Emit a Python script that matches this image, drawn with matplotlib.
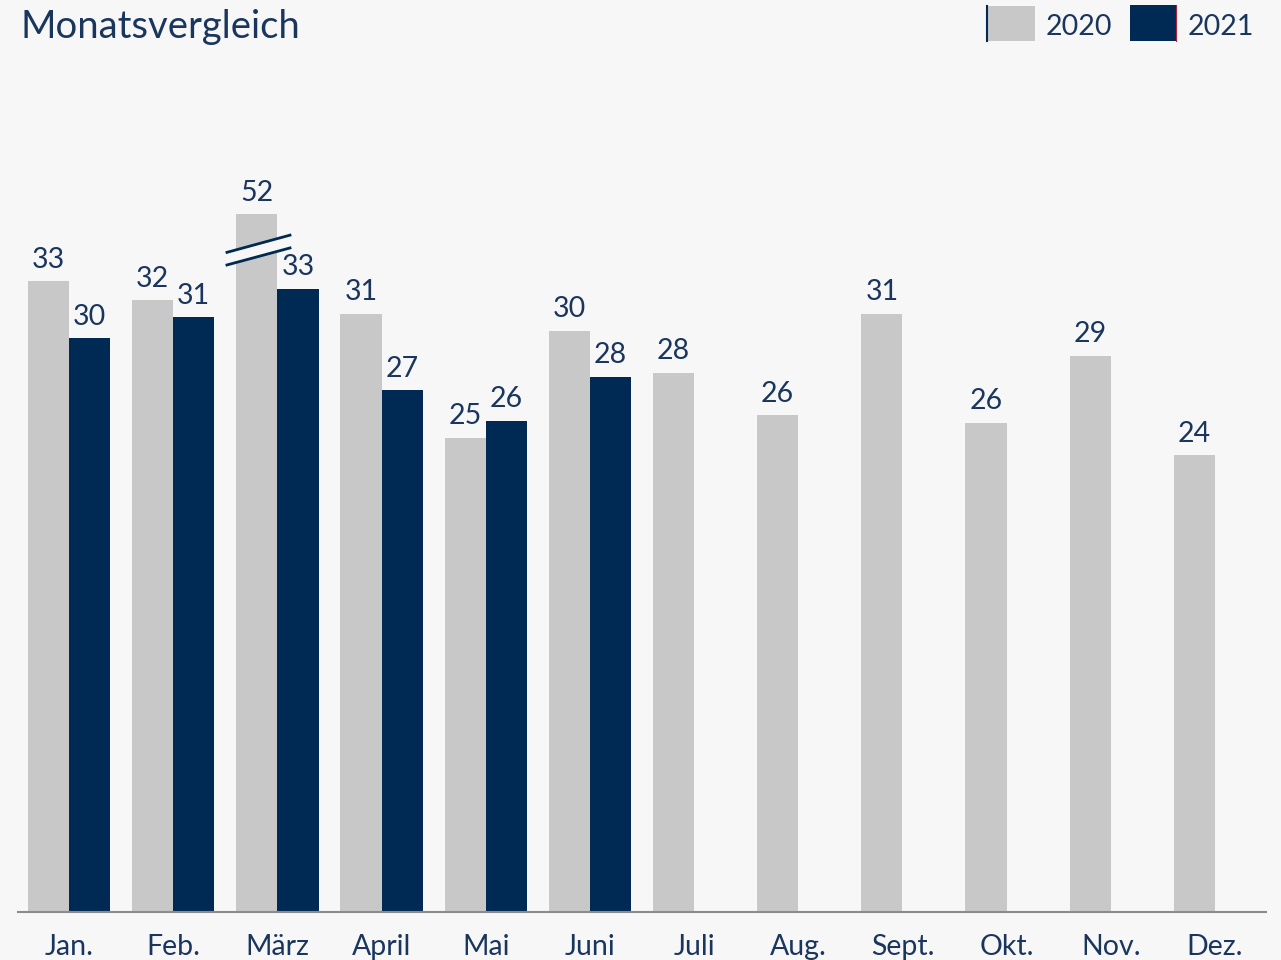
import matplotlib.pyplot as plt
from matplotlib.patches import Rectangle, Polygon
from matplotlib.lines import Line2D
import numpy as np

months = ["Jan.", "Feb.", "März", "April", "Mai", "Juni", "Juli", "Aug.", "Sept.", "Okt.", "Nov.", "Dez."]
v2020 = [33.0, 32.0, 52.0, 31.3, 24.8, 30.4, 28.2, 26.0, 31.3, 25.6, 29.1, 23.9]
v2021 = [30.0, 31.1, 32.6, 27.3, 25.7, 28.0]
cap = 36.5  # Maerz 2020 drawn shortened (axis break)

bg = "#f7f7f7"
grey = "#c8c8c8"
navy = "#002a54"
txt = "#1b365d"

plt.rcParams['font.family'] = ['Lato', 'DejaVu Sans']

fig = plt.figure(figsize=(12.81, 9.6), dpi=100, facecolor=bg)
ax = fig.add_axes([18/1281, 48/960, 1248/1281, 852/960])
ax.set_facecolor(bg)

x = np.arange(len(months))
w = 0.395
h2020 = [min(v, cap) for v in v2020]
ax.bar(x - w/2, h2020, width=w, color=grey)
ax.bar(x[:len(v2021)] + w/2, v2021, width=w, color=navy)

for i, v in enumerate(v2020):
    ax.annotate(f"{v:.0f}", (x[i] - w/2, h2020[i]), xytext=(0, 6), textcoords="offset points",
                ha="center", va="bottom", fontsize=20.5, color=txt)
for i, v in enumerate(v2021):
    ax.annotate(f"{v:.0f}", (x[i] + w/2, v), xytext=(0, 6), textcoords="offset points",
                ha="center", va="bottom", fontsize=20.5, color=txt)

# break marks on Maerz 2020
bx0, bx1 = 1.516, 2.121
ax.add_patch(Polygon([(bx0, 34.5), (bx1, 35.4), (bx1, 34.73), (bx0, 33.84)],
                     closed=True, facecolor=bg, edgecolor="none", zorder=3))
ax.plot([bx0, bx1], [34.5, 35.4], color=navy, lw=2, zorder=4)
ax.plot([bx0, bx1], [33.84, 34.73], color=navy, lw=2, zorder=4)

ax.set_xlim(-0.49, 11.49)
ax.set_ylim(0, 44.56)
ax.set_xticks(x)
ax.set_xticklabels(months, fontsize=20.5, color=txt)
ax.tick_params(axis="x", length=0, pad=16)
ax.set_yticks([])
for s in ["top", "right", "left"]:
    ax.spines[s].set_visible(False)
ax.spines["bottom"].set_color("#8c8c8c")
ax.spines["bottom"].set_linewidth(1.5)

fig.text(20/1281, 1 - 27/960, "Monatsvergleich", fontsize=27.5, color=txt, va="center", ha="left")

# legend
fig.add_artist(Rectangle((987/1281, 1 - 41/960), 48/1281, 35/960, transform=fig.transFigure,
                         facecolor=grey, edgecolor="none"))
fig.add_artist(Line2D([987/1281, 987/1281], [1 - 41/960, 1 - 6/960], transform=fig.transFigure,
                      color=navy, lw=1.5))
fig.text(1046/1281, 1 - 27/960, "2020", fontsize=20.5, color=txt, va="center", ha="left")
fig.add_artist(Rectangle((1130/1281, 1 - 41/960), 46/1281, 36/960, transform=fig.transFigure,
                         facecolor=navy, edgecolor="none"))
fig.add_artist(Line2D([1176/1281, 1176/1281], [1 - 41/960, 1 - 5/960], transform=fig.transFigure,
                      color="#b0223a", lw=0.8))
fig.text(1188/1281, 1 - 27/960, "2021", fontsize=20.5, color=txt, va="center", ha="left")

fig.savefig("out.png", dpi=100, facecolor=bg)
